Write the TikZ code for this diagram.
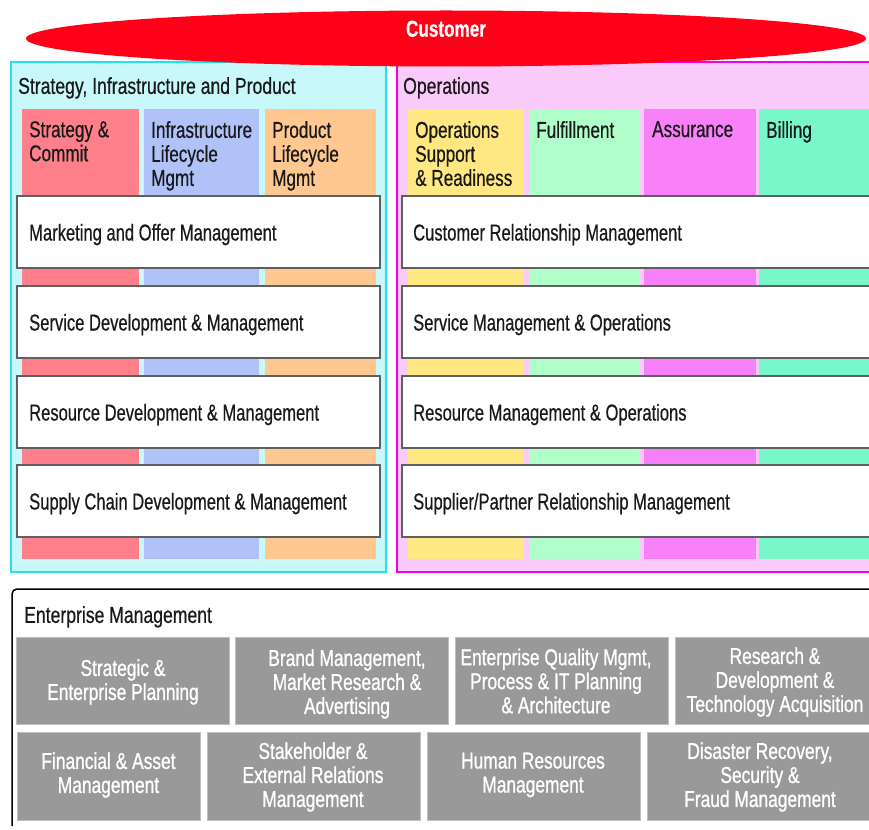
\documentclass[tikz,border=0pt]{standalone}
\usepackage{fontspec}
\setmainfont{Liberation Sans}[FakeStretch=0.745, FakeBold=0.5]
\newfontfamily\procfont{Liberation Sans}[FakeStretch=0.72, FakeBold=0.5]
\newfontfamily\titlefont{Liberation Sans}[FakeStretch=0.765, FakeBold=0.5]
\newfontfamily\grayfont{Liberation Sans}[FakeStretch=0.755, FakeBold=0.9]
\usetikzlibrary{shapes.geometric}
\definecolor{custRed}{RGB}{255,0,24}
\definecolor{cyanB}{RGB}{32,226,240}
\definecolor{cyanF}{RGB}{200,248,250}
\definecolor{magB}{RGB}{240,0,240}
\definecolor{magF}{RGB}{250,202,250}
\definecolor{cRed}{RGB}{255,128,138}
\definecolor{cBlue}{RGB}{176,194,248}
\definecolor{cOrange}{RGB}{255,200,144}
\definecolor{cYellow}{RGB}{255,232,130}
\definecolor{cGreen}{RGB}{176,255,202}
\definecolor{cPink}{RGB}{248,128,248}
\definecolor{cBill}{RGB}{120,248,202}
\definecolor{gBox}{RGB}{153,153,153}
\definecolor{wBorder}{RGB}{96,96,96}
\begin{document}
\begin{tikzpicture}[x=1pt,y=-1pt,
  font=\fontsize{23}{24}\selectfont,
  rct/.style={rectangle, inner sep=0pt, outer sep=0pt, anchor=north west},
  panelL/.style={rct, draw=cyanB, fill=cyanF, line width=1.6pt},
  panelR/.style={rct, draw=magB, fill=magF, line width=1.6pt},
  colbox/.style={rct, minimum height=450},
  coltext/.style={anchor=north west, inner sep=0pt, align=left, text=black!90},
  procbox/.style={rct, draw=wBorder, fill=white, line width=1.3pt, minimum height=72},
  proctext/.style={anchor=base west, inner sep=0pt, text=black!90, font=\fontsize{23}{24}\procfont},
  ttl/.style={anchor=north west, inner sep=0pt, text=black!90, font=\fontsize{23}{24}\titlefont},
  gbox/.style={rct, fill=gBox, draw=black!25, line width=0.6pt},
  gtext/.style={anchor=center, inner sep=0pt, align=center, text=white, font=\fontsize{23}{24}\grayfont}
]
\useasboundingbox (0,0) rectangle (869,829);
\clip (0,0) rectangle (869,829);
\fill[white] (0,0) rectangle (869,829);

% panels
\node[panelL, minimum width=375, minimum height=510] (sip) at (11,62) {};
\node[panelR, minimum width=500, minimum height=510] (ops) at (397,62) {};
\node[ttl] (sipT) at (18,77) {Strategy, Infrastructure and Product};
\node[ttl] (opsT) at (403,77) {Operations};

% vertical columns
\node[colbox, fill=cRed, minimum width=117] (cSC) at (22,109) {};
\node[colbox, fill=cBlue, minimum width=115] (cIL) at (144,109) {};
\node[colbox, fill=cOrange, minimum width=111] (cPL) at (265,109) {};
\node[colbox, fill=cYellow, minimum width=116] (cOS) at (408,109) {};
\node[colbox, fill=cGreen, minimum width=111] (cFU) at (529,109) {};
\node[colbox, fill=cPink, minimum width=112] (cAS) at (644,109) {};
\node[colbox, fill=cBill, minimum width=130] (cBI) at (759,109) {};

\node[coltext] (tSC) at (29,121) {Strategy \&\\Commit};
\node[coltext] (tIL) at (151,121) {Infrastructure\\Lifecycle\\Mgmt};
\node[coltext] (tPL) at (272,121) {Product\\Lifecycle\\Mgmt};
\node[coltext] (tOS) at (415,121) {Operations\\Support\\\& Readiness};
\node[coltext] (tFU) at (536,121) {Fulfillment};
\node[coltext] (tAS) at (652,121) {Assurance};
\node[coltext] (tBI) at (766,121) {Billing};

% horizontal process boxes
\node[procbox, minimum width=363] (pMO) at (17,196) {};
\node[procbox, minimum width=363] (pSD) at (17,286) {};
\node[procbox, minimum width=363] (pRD) at (17,376) {};
\node[procbox, minimum width=363] (pSC) at (17,465) {};
\node[procbox, minimum width=490] (pCR) at (402,196) {};
\node[procbox, minimum width=490] (pSM) at (402,286) {};
\node[procbox, minimum width=490] (pRM) at (402,376) {};
\node[procbox, minimum width=490] (pSP) at (402,465) {};

\node[proctext] at (29,240.5) {Marketing and Offer Management};
\node[proctext] at (29,330.5) {Service Development \& Management};
\node[proctext] at (29,420.5) {Resource Development \& Management};
\node[proctext] at (29,509.5) {Supply Chain Development \& Management};
\node[proctext] at (413,240.5) {Customer Relationship Management};
\node[proctext] at (413,330.5) {Service Management \& Operations};
\node[proctext] at (413,420.5) {Resource Management \& Operations};
\node[proctext] at (413,509.5) {Supplier/Partner Relationship Management};

% customer ellipse
\node[ellipse, fill=custRed, minimum width=840, minimum height=56, inner sep=0pt] (cust) at (446,38.5) {};
\node[anchor=base, inner sep=0pt, text=white, font=\fontsize{23}{24}\selectfont\bfseries] (custT) at (446,36.7) {Customer};

% enterprise management
\coordinate (emBL) at (12,826);
\coordinate (emTR) at (885,589);
\draw[line width=1.5pt, rounded corners=5pt] (emBL) -- (emBL |- emTR) -- (emTR);
\node[ttl] (emT) at (24,606) {Enterprise Management};

\node[gbox, minimum width=213, minimum height=87] (e1) at (16,637) {};
\node[gbox, minimum width=213, minimum height=87] (e2) at (235,637) {};
\node[gbox, minimum width=213, minimum height=87] (e3) at (455,637) {};
\node[gbox, minimum width=210, minimum height=87] (e4) at (675,637) {};
\node[gbox, minimum width=183, minimum height=88] (f1) at (17,732) {};
\node[gbox, minimum width=213, minimum height=88] (f2) at (207,732) {};
\node[gbox, minimum width=213, minimum height=88] (f3) at (427,732) {};
\node[gbox, minimum width=230, minimum height=88] (f4) at (647,732) {};

\node[gtext] at (123,682) {Strategic \&\\Enterprise Planning};
\node[gtext] at (347,684) {Brand Management,\\Market Research \&\\Advertising};
\node[gtext] at (556,681) {Enterprise Quality Mgmt,\\Process \& IT Planning\\\& Architecture};
\node[gtext] at (775,682) {Research \&\\Development \&\\Technology Acquisition};
\node[gtext] at (108.5,775) {Financial \& Asset\\Management};
\node[gtext] at (313,777) {Stakeholder \&\\External Relations\\Management};
\node[gtext] at (533,775) {Human Resources\\Management};
\node[gtext] at (760,777) {Disaster Recovery,\\Security \&\\Fraud Management};
\end{tikzpicture}
\end{document}
